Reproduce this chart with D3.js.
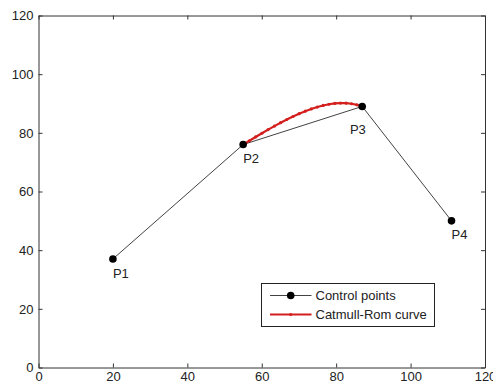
<!DOCTYPE html>
<html>
<head>
<meta charset="utf-8">
<script src="https://cdn.jsdelivr.net/npm/d3@7"></script>
<style>
  html, body { margin: 0; padding: 0; background: #fff; }
  svg { display: block; font-family: Arial, "Liberation Sans", Helvetica, sans-serif; }
</style>
</head>
<body>
<svg id="chart" width="493" height="387"></svg>
<script>
// control points
const pointNames = ["P1", "P2", "P3", "P4"];
const pointX = [20, 55, 87, 111];
const pointY = [37, 76, 89, 50];

// Catmull-Rom segment between P2 and P3
const curveX = [55, 56.68, 58.36, 60.04, 61.72, 63.40, 65.07, 66.74, 68.40, 70.05, 71.69,
                73.31, 74.92, 76.51, 78.08, 79.63, 81.16, 82.66, 84.14, 85.58, 87];
const curveY = [76, 77.30, 78.59, 79.86, 81.10, 82.30, 83.45, 84.54, 85.57, 86.52, 87.38,
                88.14, 88.79, 89.33, 89.74, 90.02, 90.14, 90.12, 89.92, 89.55, 89];

const xTicks = [0, 20, 40, 60, 80, 100, 120];
const yTicks = [0, 20, 40, 60, 80, 100, 120];
const legendLabels = ["Control points", "Catmull-Rom curve"];

const plotLeft = 38.5, plotRight = 485, plotTop = 15.5, plotBottom = 367.5;
const ink = "#222";
const red = "#d41f1f";

const svg = d3.select("#chart");

const x = d3.scaleLinear().domain([0, 120]).range([plotLeft, plotRight]);
const y = d3.scaleLinear().domain([0, 120]).range([plotBottom, plotTop]);

// axes, MATLAB style: ticks pointing in, box on
function styleAxis(g) {
    g.attr("font-family", null).attr("font-size", null);
    g.selectAll("path").attr("stroke", "#333");
    g.selectAll("line").attr("stroke", "#333");
    g.selectAll("text").attr("fill", ink).style("font-size", "13px");
}

svg.append("g")
    .attr("transform", `translate(0,${plotBottom})`)
    .call(d3.axisBottom(x).tickValues(xTicks).tickSizeInner(-4).tickSizeOuter(0).tickPadding(4))
    .call(styleAxis);

svg.append("g")
    .attr("transform", `translate(0,${plotTop})`)
    .call(d3.axisTop(x).tickValues(xTicks).tickSizeInner(-4).tickSizeOuter(0).tickFormat(""))
    .call(styleAxis);

svg.append("g")
    .attr("transform", `translate(${plotLeft},0)`)
    .call(d3.axisLeft(y).tickValues(yTicks).tickSizeInner(-4).tickSizeOuter(0).tickPadding(5))
    .call(styleAxis);

svg.append("g")
    .attr("transform", `translate(${plotRight},0)`)
    .call(d3.axisRight(y).tickValues(yTicks).tickSizeInner(-4).tickSizeOuter(0).tickFormat(""))
    .call(styleAxis);

// control polygon
const pts = pointX.map((d, i) => ({ x: d, y: pointY[i], name: pointNames[i] }));
const line = d3.line().x(d => x(d.x)).y(d => y(d.y));

svg.append("path")
    .datum(pts)
    .attr("d", line)
    .attr("fill", "none")
    .attr("stroke", "#111")
    .attr("stroke-width", 0.8);

// curve
const curve = curveX.map((d, i) => ({ x: d, y: curveY[i] }));
svg.append("path")
    .datum(curve)
    .attr("d", line)
    .attr("fill", "none")
    .attr("stroke", red)
    .attr("stroke-width", 2.2);

svg.append("g")
    .selectAll("circle")
    .data(curve)
    .join("circle")
    .attr("cx", d => x(d.x))
    .attr("cy", d => y(d.y))
    .attr("r", 1.6)
    .attr("fill", red);

svg.append("g")
    .selectAll("circle")
    .data(pts)
    .join("circle")
    .attr("cx", d => x(d.x))
    .attr("cy", d => y(d.y))
    .attr("r", 3.8)
    .attr("fill", "#000");

// point labels, P3 sits below-left of its point
svg.append("g")
    .selectAll("text")
    .data(pts)
    .join("text")
    .attr("x", d => d.name === "P3" ? x(d.x - 3.3) : x(d.x))
    .attr("y", d => d.name === "P3" ? y(d.y - 7.8) : y(d.y - 4.8))
    .attr("dy", "0.35em")
    .attr("fill", ink)
    .style("font-size", "13px")
    .text(d => d.name);

// legend
const lg = svg.append("g").attr("transform", "translate(261.5,283.5)");
lg.append("rect")
    .attr("width", 173).attr("height", 43)
    .attr("fill", "#fff").attr("stroke", "#222").attr("stroke-width", 1);

const rowY = [12, 31];
lg.append("line").attr("x1", 8.5).attr("x2", 50).attr("y1", rowY[0]).attr("y2", rowY[0])
    .attr("stroke", "#111").attr("stroke-width", 0.8);
lg.append("circle").attr("cx", 29.2).attr("cy", rowY[0]).attr("r", 3.8).attr("fill", "#000");
lg.append("line").attr("x1", 8.5).attr("x2", 50).attr("y1", rowY[1]).attr("y2", rowY[1])
    .attr("stroke", red).attr("stroke-width", 2.2);
lg.append("circle").attr("cx", 29.2).attr("cy", rowY[1]).attr("r", 1.6).attr("fill", red);

lg.selectAll("text.lab")
    .data(legendLabels)
    .join("text")
    .attr("class", "lab")
    .attr("x", 54)
    .attr("y", (d, i) => rowY[i])
    .attr("dy", "0.35em")
    .attr("fill", ink)
    .style("font-size", "13px")
    .text(d => d);
</script>
</body>
</html>
